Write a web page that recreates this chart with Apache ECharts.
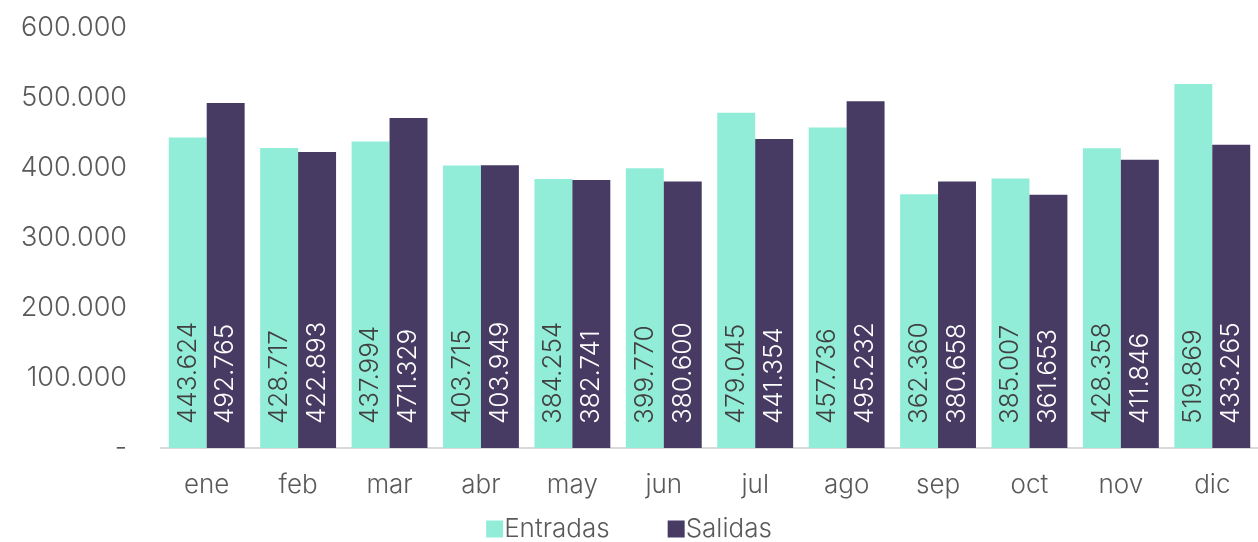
<!DOCTYPE html>
<html>
<head>
<meta charset="utf-8">
<script src="https://cdn.jsdelivr.net/npm/echarts@6/dist/echarts.min.js"></script>
<style>
  html, body { margin: 0; padding: 0; background: #fff; }
  #main { width: 1258px; height: 542px; }
</style>
</head>
<body>
<div id="main"></div>
<script>
const months = ['ene', 'feb', 'mar', 'abr', 'may', 'jun', 'jul', 'ago', 'sep', 'oct', 'nov', 'dic']
const entradas = [443624, 428717, 437994, 403715, 384254, 399770, 479045, 457736, 362360, 385007, 428358, 519869]
const salidas = [492765, 422893, 471329, 403949, 382741, 380600, 441354, 495232, 380658, 361653, 411846, 433265]

const fontFamily = 'Inter, sans-serif'
const weight = 300

function fmt(v) {
    if (v === 0) return '-'
    return String(Math.round(v)).replace(/\B(?=(\d{3})+(?!\d))/g, '.')
}

const myChart = echarts.init(document.getElementById('main'))

const option = {
    animation: false,
    textStyle: { fontFamily: fontFamily, fontWeight: weight },
    grid: {
        left: 161,
        width: 1104,
        top: 28,
        bottom: 94,
    },
    legend: {
        bottom: -5,
        left: 'center',
        itemWidth: 17,
        itemHeight: 17,
        itemGap: 58,
        icon: 'rect',
        textStyle: { color: '#595959', fontSize: 26, fontWeight: weight, fontFamily: fontFamily, padding: [0, 0, 0, -4] },
        data: ['Entradas', 'Salidas'],
    },
    xAxis: {
        type: 'category',
        data: months,
        axisLine: { lineStyle: { color: '#d9d9d9', width: 2 } },
        axisTick: { show: false },
        axisLabel: { color: '#595959', fontSize: 26, fontWeight: weight, margin: 24, fontFamily: fontFamily },
    },
    yAxis: {
        type: 'value',
        min: 0,
        max: 600000,
        interval: 100000,
        splitLine: { show: false },
        axisLine: { show: false },
        axisTick: { show: false },
        axisLabel: {
            color: '#595959',
            fontSize: 27,
            fontWeight: weight,
            margin: 34,
            fontFamily: fontFamily,
            formatter: fmt,
        },
    },
    series: [
        {
            name: 'Entradas',
            type: 'bar',
            data: entradas,
            barGap: 0,
            barCategoryGap: '17%',
            itemStyle: { color: '#92EDD8' },
            label: {
                show: true,
                position: 'insideBottom',
                rotate: 90,
                align: 'left',
                verticalAlign: 'middle',
                distance: 24,
                color: '#404040',
                fontSize: 26,
                fontWeight: weight,
                fontFamily: fontFamily,
                formatter: p => fmt(p.value),
            },
        },
        {
            name: 'Salidas',
            type: 'bar',
            data: salidas,
            barGap: 0,
            barCategoryGap: '17%',
            itemStyle: { color: '#473B63' },
            label: {
                show: true,
                position: 'insideBottom',
                rotate: 90,
                align: 'left',
                verticalAlign: 'middle',
                distance: 24,
                color: '#ffffff',
                fontSize: 26,
                fontWeight: weight,
                fontFamily: fontFamily,
                formatter: p => fmt(p.value),
            },
        },
    ],
}

myChart.setOption(option)
</script>
</body>
</html>
